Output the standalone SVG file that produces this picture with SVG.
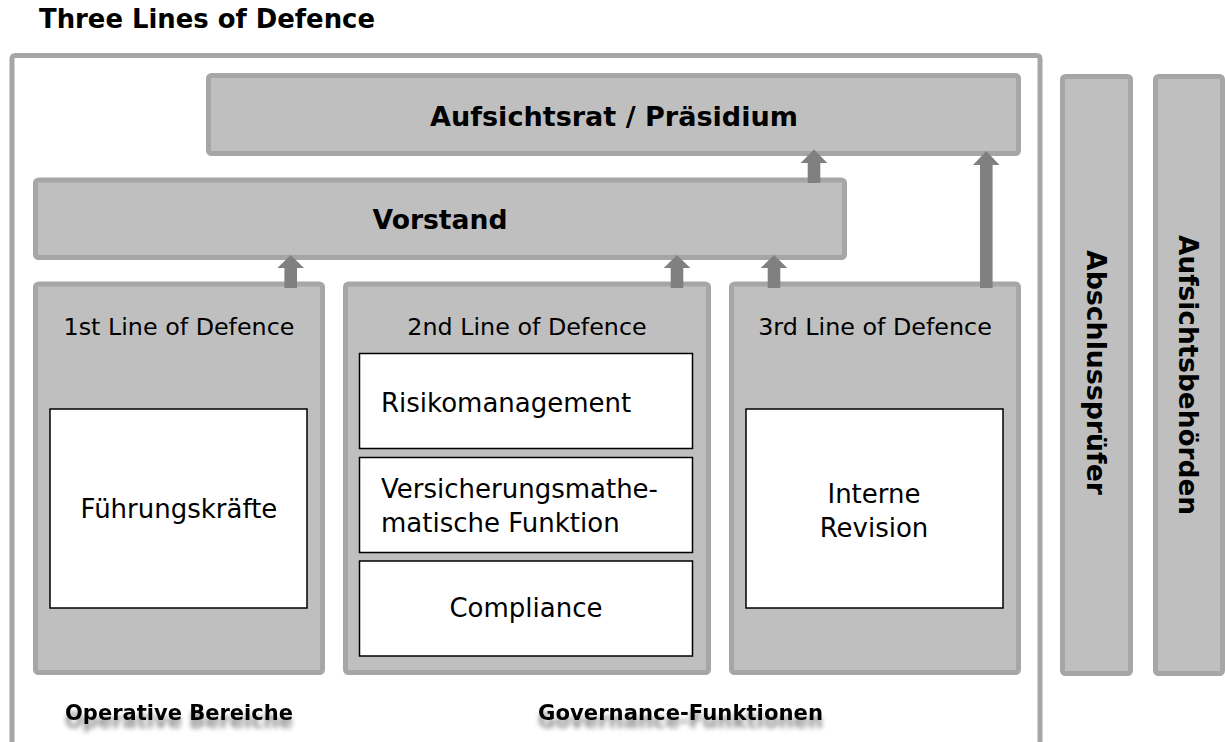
<svg xmlns="http://www.w3.org/2000/svg" width="1225" height="742" viewBox="0 0 1225 742">
<style>
text{font-family:"DejaVu Sans","Verdana",sans-serif;fill:#000}
.box{fill:#bfbfbf;stroke:#a6a6a6;stroke-width:5}
.inner{fill:#fff;stroke:#000;stroke-width:1.5}
.arrow{fill:#808080}
.hdr{font-size:23.8px}
.in{font-size:26px}
.b{font-weight:bold}
</style>
<defs>
<filter id="sh" x="-10%" y="-50%" width="120%" height="250%">
<feGaussianBlur in="SourceAlpha" stdDeviation="2.5"/>
<feOffset dy="8" result="o"/>
<feComponentTransfer><feFuncA type="linear" slope="0.45"/></feComponentTransfer>
<feMerge><feMergeNode/><feMergeNode in="SourceGraphic"/></feMerge>
</filter>
</defs>
<rect width="1225" height="742" fill="#fff"/>
<text x="39" y="28" class="b" font-size="25.8" textLength="336" lengthAdjust="spacingAndGlyphs">Three Lines of Defence</text>
<path d="M12,745 V59 Q12,55.5 15.5,55.5 H1036.5 Q1040,55.5 1040,59 V745" fill="none" stroke="#a6a6a6" stroke-width="5"/>
<g id="aufsichtsrat">
<rect class="box" x="208.5" y="75.5" width="810" height="78" rx="3"/>
<text x="614" y="126" class="b" font-size="26" text-anchor="middle" textLength="368" lengthAdjust="spacingAndGlyphs">Aufsichtsrat / Präsidium</text>
</g>
<g id="vorstand">
<rect class="box" x="35.5" y="180" width="809" height="77.5" rx="3"/>
<text x="440" y="229" class="b" font-size="26" text-anchor="middle" textLength="135" lengthAdjust="spacingAndGlyphs">Vorstand</text>
</g>
<g id="line1">
<rect class="box" x="35.5" y="284" width="287" height="388.5" rx="3"/>
<text x="179" y="335" class="hdr" text-anchor="middle">1st Line of Defence</text>
</g>
<g id="fuehrungskraefte">
<rect class="inner" x="50" y="409" width="257" height="199"/>
<text x="179" y="518" class="in" text-anchor="middle">Führungskräfte</text>
</g>
<g id="line2">
<rect class="box" x="345.5" y="284" width="363" height="388.5" rx="3"/>
<text x="527" y="335" class="hdr" text-anchor="middle">2nd Line of Defence</text>
</g>
<g id="risikomanagement">
<rect class="inner" x="359.5" y="353.5" width="333" height="95"/>
<text x="381" y="412" class="in">Risikomanagement</text>
</g>
<g id="versicherungsmathematik">
<rect class="inner" x="359.5" y="457.5" width="333" height="95"/>
<text x="381" y="498" class="in">Versicherungsmathe-</text>
<text x="381" y="532" class="in">matische Funktion</text>
</g>
<g id="compliance">
<rect class="inner" x="359.5" y="561" width="333" height="95"/>
<text x="526" y="617" class="in" text-anchor="middle">Compliance</text>
</g>
<g id="line3">
<rect class="box" x="731.5" y="284" width="287" height="388.5" rx="3"/>
<text x="875" y="335" class="hdr" text-anchor="middle">3rd Line of Defence</text>
</g>
<g id="interne-revision">
<rect class="inner" x="746" y="409" width="257" height="199"/>
<text x="874" y="503" class="in" text-anchor="middle">Interne</text>
<text x="874" y="537" class="in" text-anchor="middle">Revision</text>
</g>
<g id="abschlusspruefer">
<rect class="box" x="1062.5" y="76.5" width="68" height="597" rx="3"/>
<text transform="translate(1087,372.5) rotate(90)" class="b" font-size="26" text-anchor="middle" textLength="245" lengthAdjust="spacingAndGlyphs">Abschlussprüfer</text>
</g>
<g id="aufsichtsbehoerden">
<rect class="box" x="1155.5" y="76.5" width="67" height="597" rx="3"/>
<text transform="translate(1179,375) rotate(90)" class="b" font-size="26" text-anchor="middle" textLength="280" lengthAdjust="spacingAndGlyphs">Aufsichtsbehörden</text>
</g>
<g id="labels">
<text x="65" y="720" class="b" font-size="21" filter="url(#sh)" textLength="228" lengthAdjust="spacingAndGlyphs">Operative Bereiche</text>
<text x="538" y="720" class="b" font-size="21" filter="url(#sh)" textLength="285" lengthAdjust="spacingAndGlyphs">Governance-Funktionen</text>
</g>
<g id="connectors">
<polygon class="arrow" points="284.4,288 284.4,268 277.4,268 290.7,255 304,268 297,268 297,288"/>
<polygon class="arrow" points="670.7,288 670.7,268 663.7,268 677,255 690.3,268 683.3,268 683.3,288"/>
<polygon class="arrow" points="767.7,288 767.7,268 760.7,268 774,255 787.3,268 780.3,268 780.3,288"/>
<polygon class="arrow" points="807.7,183 807.7,163 800.7,163 814,149.5 827.3,163 820.3,163 820.3,183"/>
<polygon class="arrow" points="980,288 980,165 973,165 986.3,151 999.6,165 992.6,165 992.6,288"/>
</g>
</svg>
